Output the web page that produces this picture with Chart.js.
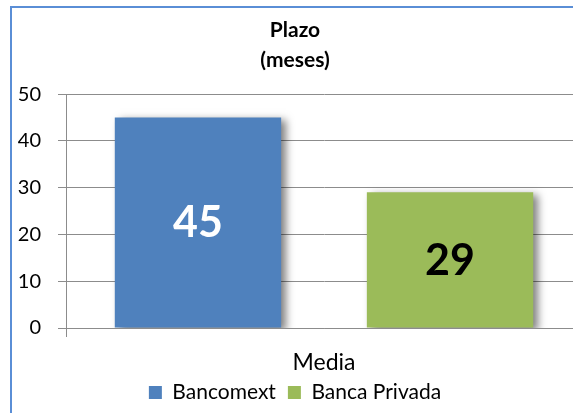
<!DOCTYPE html>
<html>
<head>
<meta charset="utf-8">
<script src="https://cdn.jsdelivr.net/npm/chart.js@4.4.1/dist/chart.umd.min.js"></script>
<style>
  html, body { margin: 0; padding: 0; background: #fff; width: 573px; height: 413px; overflow: hidden; }
  #wrap { position: absolute; left: 0; top: 0; width: 573px; height: 413px; overflow: hidden; }
  #frame { position: absolute; left: 10px; top: 6px; width: 563px; height: 407px; box-sizing: border-box;
           border-left: 2px solid #5a8ed6; border-top: 2px solid #5a8ed6; }
  canvas { position: absolute; left: 0; top: 0; }
</style>
</head>
<body>
<div id="wrap">
  <div id="frame"></div>
  <canvas id="plazo" width="600" height="413"></canvas>
</div>
<script>
const categories = ['Media'];
const seriesNames = ['Bancomext', 'Banca Privada'];
const bancomext = [45];
const bancaPrivada = [29];
const yTicks = [0, 10, 20, 30, 40, 50];

const FONT = 'Lato, "Open Sans", sans-serif';
const GRID = '#8c8c8c';

// soft drop shadow behind the bars
const barShadow = {
  id: 'barShadow',
  beforeDatasetsDraw(chart) {
    const ctx = chart.ctx;
    ctx.save();
    ctx.shadowColor = 'rgba(0,0,0,0.5)';
    ctx.shadowBlur = 8;
    ctx.shadowOffsetX = 5;
    ctx.shadowOffsetY = 3;
  },
  afterDatasetsDraw(chart) {
    chart.ctx.restore();
  }
};

// big value labels in the middle of each bar
const valueLabels = {
  id: 'valueLabels',
  afterDatasetsDraw(chart) {
    const ctx = chart.ctx;
    const colors = ['#ffffff', '#000000'];
    ctx.save();
    ctx.font = 'bold 43px ' + FONT;
    ctx.textAlign = 'center';
    ctx.textBaseline = 'middle';
    chart.data.datasets.forEach((ds, i) => {
      chart.getDatasetMeta(i).data.forEach((bar, j) => {
        const mid = (bar.y + bar.base) / 2;
        ctx.fillStyle = colors[i];
        ctx.fillText(String(ds.data[j]), bar.x, mid + 1);
      });
    });
    ctx.restore();
  }
};

new Chart(document.getElementById('plazo'), {
  type: 'bar',
  data: {
    labels: categories,
    datasets: [{
      label: seriesNames[0],
      data: bancomext,
      backgroundColor: '#4f81bd',
      categoryPercentage: 0.977,
      barPercentage: 0.66
    }, {
      label: seriesNames[1],
      data: bancaPrivada,
      backgroundColor: '#9bbb59',
      categoryPercentage: 0.977,
      barPercentage: 0.66
    }]
  },
  options: {
    responsive: false,
    animation: false,
    // canvas is wider than the window: plot runs past the right edge like the original
    layout: { padding: { left: 8, right: 18, top: 0, bottom: 0 } },
    plugins: {
      title: {
        display: true,
        text: ['Plazo', '(meses)'],
        color: '#000',
        font: { family: FONT, size: 21, weight: 'bold', lineHeight: 1.43 },
        padding: { top: 15, bottom: 19 }
      },
      legend: {
        position: 'bottom',
        labels: {
          color: '#000',
          font: { family: FONT, size: 21 },
          boxWidth: 13,
          boxHeight: 13,
          padding: 12
        }
      },
      tooltip: { enabled: false }
    },
    scales: {
      x: {
        afterFit(scale) { scale.height = 42; },
        grid: { drawOnChartArea: false, drawTicks: true, tickLength: 9, color: GRID, offset: true },
        border: { color: GRID },
        ticks: { color: '#000', font: { family: FONT, size: 23 }, padding: 12 }
      },
      y: {
        min: 0,
        max: 50,
        afterBuildTicks(scale) { scale.ticks = yTicks.map(v => ({ value: v })); },
        afterFit(scale) { scale.width = 58; },
        grid: { color: GRID, lineWidth: 1, drawTicks: true, tickLength: 8 },
        border: { color: GRID },
        ticks: { color: '#000', font: { family: FONT, size: 20 }, padding: 17 }
      }
    }
  },
  plugins: [barShadow, valueLabels]
});
</script>
</body>
</html>
